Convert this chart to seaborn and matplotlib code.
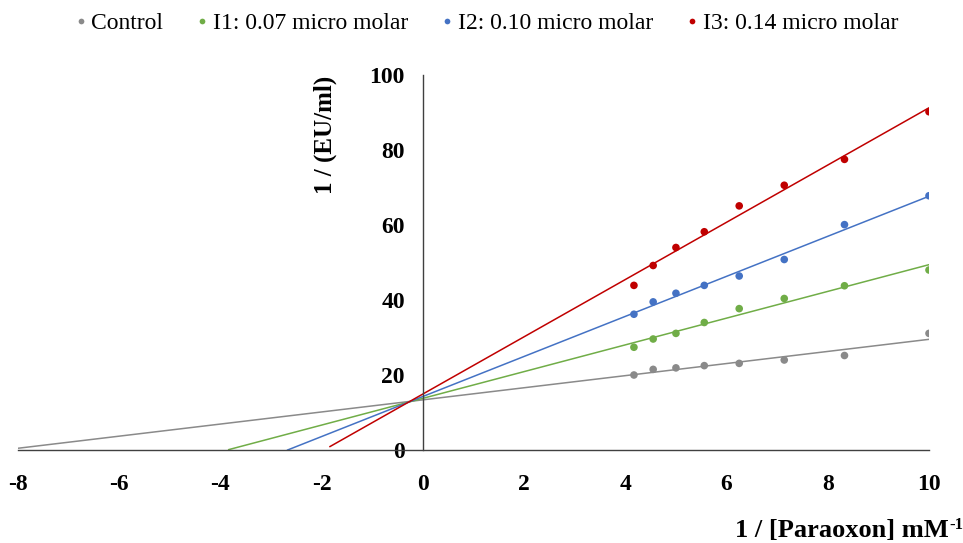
import matplotlib
matplotlib.use("Agg")
import matplotlib.pyplot as plt
import numpy as np
import pandas as pd
import seaborn as sns

sns.set_style("white")
plt.rcParams['font.family'] = ['Liberation Serif', 'DejaVu Serif']
plt.rcParams['axes.unicode_minus'] = False
plt.rcParams['text.color'] = 'black'

# 1/[S] values (mM^-1)
inv_s = [4.17, 4.55, 5.0, 5.56, 6.25, 7.14, 8.33, 10.0]

series_names = ["Control", "I1: 0.07 micro molar", "I2: 0.10 micro molar", "I3: 0.14 micro molar"]
control = [20.0, 21.5, 21.9, 22.5, 23.1, 24.0, 25.2, 31.1]
i1 = [27.4, 29.6, 31.1, 34.0, 37.7, 40.4, 43.8, 48.0]
i2 = [36.2, 39.5, 41.8, 43.9, 46.4, 50.8, 60.1, 67.8]
i3 = [43.9, 49.2, 54.0, 58.2, 65.1, 70.6, 77.5, 90.2]
# trendline backward forecast start (x)
trend_start = [-8.0, -3.84, -2.68, -1.84]

colors = ["#8a8a8a", "#70AD47", "#4472C4", "#C00000"]

rows = []
for name, vals in zip(series_names, [control, i1, i2, i3]):
    for x, y in zip(inv_s, vals):
        rows.append([name, x, y])
df = pd.DataFrame(rows, columns=["series", "x", "y"])

fig = plt.figure(figsize=(9.63, 5.43), dpi=100)
ax = fig.add_axes([18 / 963, 93 / 543, 911 / 963, 375 / 543])

# trendlines (linear fit, extended backwards)
for name, start, c in zip(series_names, trend_start, colors):
    sub = df[df["series"] == name]
    m, b = np.polyfit(sub["x"], sub["y"], 1)
    xs = np.array([start, 10.0])
    ax.plot(xs, m * xs + b, color=c, lw=1.1, zorder=2)

sns.scatterplot(data=df, x="x", y="y", hue="series", palette=colors,
                s=30, edgecolor="none", ax=ax, zorder=3, legend=True)

ax.set_xlim(-8, 10)
ax.set_ylim(0, 100)
ax.set_xticks(range(-8, 11, 2))
ax.set_yticks(range(0, 101, 20))
ax.spines['left'].set_position(('data', 0))
ax.spines['right'].set_visible(False)
ax.spines['top'].set_visible(False)
for s in ['left', 'bottom']:
    ax.spines[s].set_color('#404040')
    ax.spines[s].set_linewidth(1.0)
ax.tick_params(axis='both', length=0, labelsize=17, labelcolor='black')
ax.tick_params(axis='x', pad=17)
ax.tick_params(axis='y', pad=13)
for lab in ax.get_xticklabels() + ax.get_yticklabels():
    lab.set_fontweight('bold')
ax.set_xlabel('')
ax.set_ylabel('')

fig.text(325 / 963, 1 - 135 / 543, '1 / (EU/ml)', rotation=90, ha='center', va='center',
         fontsize=18, fontweight='bold')

fig.text(949 / 963, 1 - 537 / 543, '1 / [Paraoxon] mM', ha='right', va='baseline',
         fontsize=19, fontweight='bold')
fig.text(949 / 963, 1 - 529 / 543, '-1', ha='left', va='baseline',
         fontsize=12, fontweight='bold')

handles, labels = ax.get_legend_handles_labels()
leg = ax.legend(handles, labels, loc='center', bbox_to_anchor=(487 / 963, 1 - 23 / 543),
                bbox_transform=fig.transFigure, ncol=4, frameon=False, fontsize=17,
                handlelength=0.4, handletextpad=0.25, columnspacing=1.45, markerscale=0.75)
for t in leg.get_texts():
    t.set_color('black')

plt.savefig("out.png", dpi=100)
